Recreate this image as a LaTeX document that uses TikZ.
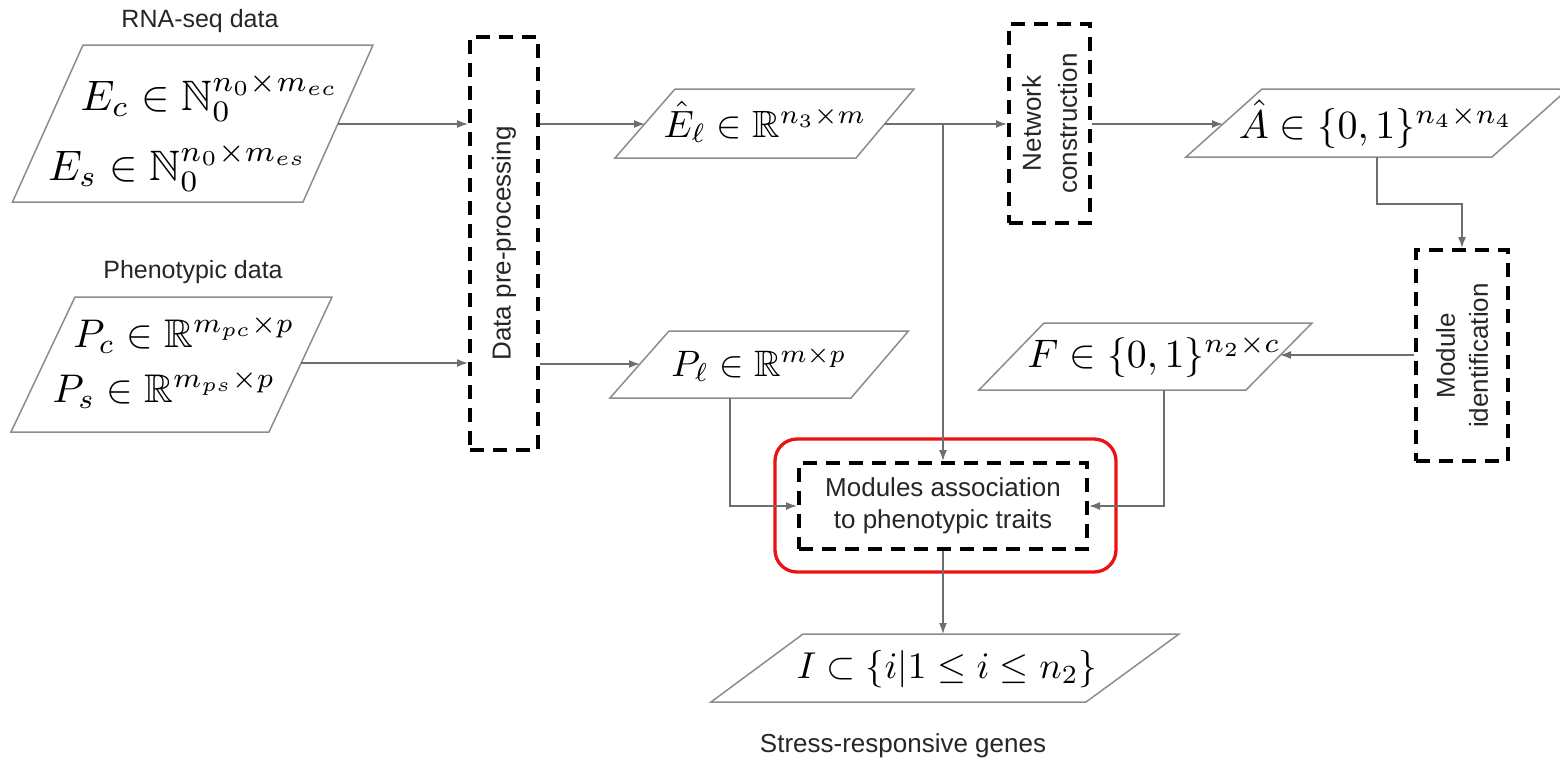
\documentclass[tikz,border=0pt]{standalone}
\usepackage{amssymb}
\usepackage{graphicx}
\usepackage{fontspec}
\setsansfont{Liberation Sans}
\usetikzlibrary{arrows.meta}
\definecolor{cgray}{HTML}{6E6E6E}
\definecolor{pgray}{HTML}{8C8C8C}
\definecolor{redc}{HTML}{EE1111}
\newcommand{\bigmath}[2]{\scalebox{#1}{$#2$}}
\begin{document}
\begin{tikzpicture}[x=0.5pt,y=-0.5pt,
  conn/.style={draw=cgray, line width=0.75pt, -{Latex[length=5.5pt,width=4pt]}},
  para/.style={draw=pgray, line width=0.75pt},
  dbox/.style={draw=black, line width=2pt, dash pattern=on 7pt off 4.5pt, inner sep=0pt},
  lab/.style={font=\sffamily\fontsize{12.5}{15}\selectfont, inner sep=0pt, text=black!85},
  boxlab/.style={font=\sffamily\fontsize{13}{16}\selectfont, inner sep=0pt, text=black!85},
  mth/.style={inner sep=0pt, anchor=base, font=\normalsize},
]
\useasboundingbox (0,0) rectangle (1560,761);
\clip (0,0) rectangle (1560,761);

% labels
\node[lab, anchor=base] (rnalab) at (200,27) {RNA-seq data};
\node[lab, anchor=base] (phlab) at (193,278) {Phenotypic data};
\node[boxlab, anchor=base] (stlab) at (903,752) {Stress-responsive genes};

% parallelograms
\draw[para] (83,45) -- (373,45) -- (303,202) -- (12.5,202) -- cycle;
\draw[para] (75,297) -- (332,297) -- (269,432) -- (11,432) -- cycle;
\draw[para] (675,89) -- (914,89) -- (856,158) -- (615,158) -- cycle;
\draw[para] (1262,89) -- (1568,89) -- (1492,157) -- (1186,157) -- cycle;
\draw[para] (669,331) -- (908.5,331) -- (851,398) -- (610,398) -- cycle;
\draw[para] (1044,323) -- (1312,323) -- (1246,390) -- (979,390) -- cycle;
\draw[para] (803,634) -- (1179,634) -- (1086,702) -- (711,702) -- cycle;

% math
\node[mth] (ec) at (210,110) {\bigmath{2.13}{E_c \in \mathbb{N}_0^{n_0\times m_{ec}}}};
\node[mth] (es) at (178,180) {\bigmath{2.13}{E_s \in \mathbb{N}_0^{n_0\times m_{es}}}};
\node[mth] (pc) at (184,347) {\bigmath{2.0}{P_c \in \mathbb{R}^{m_{pc}\times p}}};
\node[mth] (ps) at (164,402) {\bigmath{2.0}{P_s \in \mathbb{R}^{m_{ps}\times p}}};
\node[mth] (el) at (765,137) {\bigmath{1.9}{\hat{E}_\ell \in \mathbb{R}^{n_3\times m}}};
\node[mth] (ah) at (1376,138) {\bigmath{2.0}{\hat{A} \in \{0,1\}^{n_4\times n_4}}};
\node[mth] (pl) at (759,376) {\bigmath{1.84}{P_\ell \in \mathbb{R}^{m\times p}}};
\node[mth] (ff) at (1154,367) {\bigmath{1.99}{F \in \{0,1\}^{n_2\times c}}};
\node[mth] (ii) at (947,678) {\bigmath{1.87}{I \subset \{i|1 \leq i \leq n_2\}}};

% dashed process boxes
\node[dbox, minimum width=34pt, minimum height=206.5pt] (dpp) at (504,243.5) {};
\node[boxlab, rotate=90] (dppt) at (dpp.center) {Data pre-processing};
\node[dbox, minimum width=40.5pt, minimum height=99.5pt] (net) at (1049.5,123.5) {};
\node[boxlab, rotate=90, align=center, font=\sffamily\fontsize{13}{18}\selectfont] (nett) at (net.center) {Network\\construction};
\node[dbox, minimum width=46pt, minimum height=105.5pt] (modid) at (1462,355.5) {};
\node[boxlab, rotate=90, align=center, font=\sffamily\fontsize{13}{16.5}\selectfont] (modidt) at (modid.center) {Module\\identification};
\node[dbox, minimum width=144pt, minimum height=43pt] (mod) at (943,506) {};
\node[boxlab, align=center] (modt) at (mod.center) {Modules association\\to phenotypic traits};
\node[draw=redc, line width=1.65pt, rounded corners=11pt, minimum width=170.5pt, minimum height=66.5pt, inner sep=0pt] (hl) at (945.5,505.5) {};

% connector end points on parallelogram sides
\coordinate (rnaR) at (338,124);
\coordinate (phR) at (301,363);
\coordinate (elL) at (645,124);
\coordinate (plL) at (640,364);
\coordinate (elR) at (885,124);
\coordinate (aL) at (1223,124);
\coordinate (aB) at (1377,157);
\coordinate (aTurn) at (1377,204);
\coordinate (fR) at (1280,355);
\coordinate (fB) at (1164,390);
\coordinate (plB) at (730,398);
\coordinate (iT) at (943,634);

% connectors
\draw[conn] (rnaR) -- (rnaR -| dpp.west);
\draw[conn] (phR) -- (phR -| dpp.west);
\draw[conn] (elL -| dpp.east) -- (elL);
\draw[conn] (plL -| dpp.east) -- (plL);
\draw[conn] (elR) -- (elR -| net.west);
\draw[conn] (elR -| mod.north) -- (mod.north);
\draw[conn] (aL -| net.east) -- (aL);
\draw[conn] (aB) -- (aTurn) -| (modid.north);
\draw[conn] (fR -| modid.west) -- (fR);
\draw[conn] (fB) |- (mod.east);
\draw[conn] (plB) |- (mod.west);
\draw[conn] (mod.south) -- (iT);
\end{tikzpicture}
\end{document}
